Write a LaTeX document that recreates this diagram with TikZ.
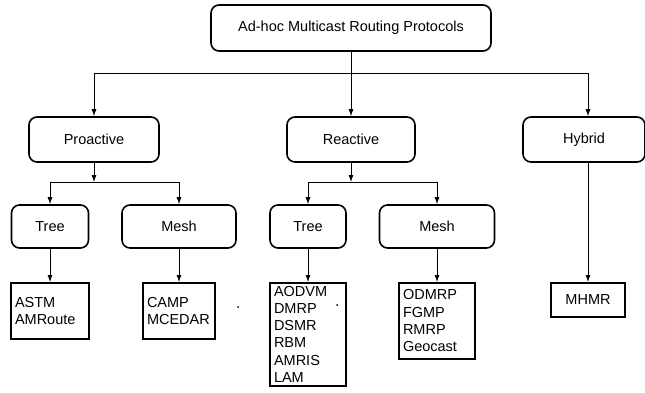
\documentclass[tikz,border=0pt]{standalone}
\usepackage{fontspec}
\setmainfont{Liberation Sans}
\usetikzlibrary{arrows.meta}

\begin{document}
\begin{tikzpicture}[x=1pt, y=-1pt,
  catbox/.style={draw, line width=1.6pt, rounded corners=8pt, inner sep=0pt,
    minimum height=45pt, font=\fontsize{14.5}{17.2}\selectfont},
  leafbox/.style={draw, line width=1.6pt, inner xsep=4pt, inner ysep=0pt,
    anchor=north, align=left, font=\fontsize{14.5}{17.2}\selectfont},
  wire/.style={line width=0.8pt},
  link/.style={wire, -{Latex[length=7pt, width=5pt]}}]
  \useasboundingbox (0,0) rectangle (645,393);

  % Root of the classification
  \node[catbox, minimum width=280pt, minimum height=46pt] (root) at (351,28)
    {Ad-hoc Multicast Routing Protocols};

  % Second level
  \node[catbox, minimum width=130pt] (pro) at (94,139.5) {Proactive};
  \node[catbox, minimum width=128pt] (rea) at (351,139.5) {Reactive};
  \node[catbox, minimum width=122pt] (hyb) at (584,139.5) {Hybrid};

  % Third level
  \node[catbox, minimum width=77pt, minimum height=43pt] (protree) at (50,226.5) {Tree};
  \node[catbox, minimum width=114pt, minimum height=43pt] (promesh) at (179,226.5) {Mesh};
  \node[catbox, minimum width=76pt, minimum height=43pt] (reatree) at (308,226.5) {Tree};
  \node[catbox, minimum width=115pt, minimum height=43pt] (reamesh) at (437,226.5) {Mesh};

  % Protocol lists
  \node[leafbox, text width=70pt, minimum height=56pt] (protreelist) at (50,282)
    {ASTM\\AMRoute};
  \node[leafbox, text width=64pt, minimum height=56pt] (promeshlist) at (179,282)
    {CAMP\\MCEDAR};
  \node[leafbox, text width=68pt, minimum height=103pt] (reatreelist) at (308,282)
    {AODVM\\DMRP\\DSMR\\RBM\\AMRIS\\LAM};
  \node[leafbox, text width=68pt, minimum height=76pt] (reameshlist) at (437,282)
    {ODMRP\\FGMP\\RMRP\\Geocast};
  \node[leafbox, align=center, minimum width=74pt, minimum height=34pt] (hyblist) at (588,282)
    {MHMR};

  % Main bus under the root
  \coordinate (busl) at (94,73);
  \coordinate (busm) at (351,73);
  \coordinate (busr) at (588,73);
  \draw[wire] (root.south) -- (busm);
  \draw[wire] (busl) -- (busr);
  \draw[link] (busl) -- (pro);
  \draw[link] (busm) -- (rea);
  \draw[link] (busr) -- (busr |- hyb.north);

  % Split under Proactive
  \coordinate (prosplit) at (94,182);
  \draw[link] (pro) -- (prosplit);
  \draw[wire] (protree |- prosplit) -- (promesh |- prosplit);
  \draw[link] (protree |- prosplit) -- (protree);
  \draw[link] (promesh |- prosplit) -- (promesh);

  % Split under Reactive
  \coordinate (reasplit) at (351,182);
  \draw[link] (rea) -- (reasplit);
  \draw[wire] (reatree |- reasplit) -- (reamesh |- reasplit);
  \draw[link] (reatree |- reasplit) -- (reatree);
  \draw[link] (reamesh |- reasplit) -- (reamesh);

  % Down to the lists
  \draw[link] (protree) -- (protreelist);
  \draw[link] (promesh) -- (promeshlist);
  \draw[link] (reatree) -- (reatreelist);
  \draw[link] (reamesh) -- (reameshlist);
  \draw[link] (busr |- hyb.south) -- (hyblist);

  % Stray dots
  \fill (238,307) circle (1pt);
  \fill (337,305) circle (1pt);
\end{tikzpicture}
\end{document}
